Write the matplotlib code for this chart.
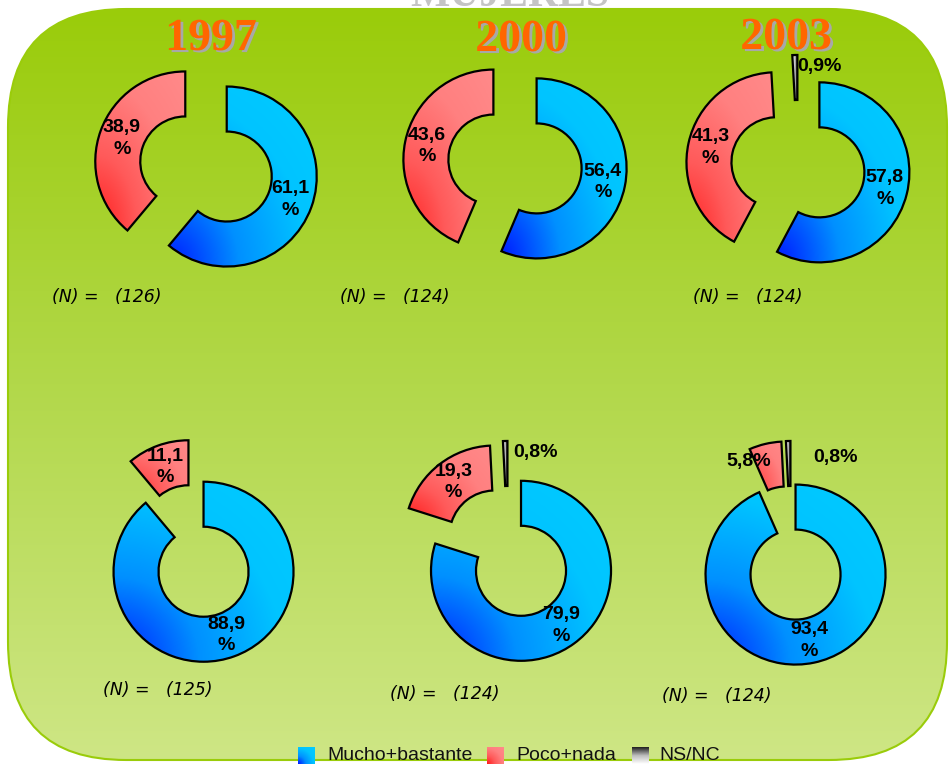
import numpy as np
import matplotlib
matplotlib.use("Agg")
import matplotlib.pyplot as plt
from matplotlib.patches import FancyBboxPatch
from matplotlib.colors import LinearSegmentedColormap
import matplotlib.patheffects as pe

W, H = 951, 766
DPI = 100

# data
years = ["1997", "2000", "2003"]
categories = ["Mucho+bastante", "Poco+nada", "NS/NC"]
top_values = [[61.1, 38.9, 0.0], [56.4, 43.6, 0.0], [57.8, 41.3, 0.9]]
bottom_values = [[88.9, 11.1, 0.0], [79.9, 19.3, 0.8], [93.4, 5.8, 0.8]]
top_n = [126, 124, 124]
bottom_n = [125, 124, 124]
header = "MUJERES"

# layout (pixels, from top-left)
top_centers = [(206, 169), (515, 164), (798, 167)]
bottom_centers = [(196, 551), (508, 553), (791, 553)]
year_pos = [(211, 39), (521, 40), (786, 38)]
top_n_pos = [(52, 297), (340, 297), (693, 297)]
bottom_n_pos = [(103, 690), (390, 694), (662, 696)]
# manual spots for the small single-line labels (pie units, from pie centre)
small_label_pos = {(2, 2): (0.24, 1.12),
                   (4, 2): (0.30, 1.12),
                   (5, 1): (-0.47, 1.02),
                   (5, 2): (0.50, 1.06)}

blue_cmap = LinearSegmentedColormap.from_list("b", ["#0018ff", "#0090ff", "#00c4ff", "#00ccff"])
red_cmap = LinearSegmentedColormap.from_list("r", ["#ff1c1c", "#ff5a5a", "#ff8080", "#ff8a8a"])
grey_cmap = LinearSegmentedColormap.from_list("g", ["#ffffff", "#bdbdbd", "#202020"])
cmaps = [blue_cmap, red_cmap, grey_cmap]

label_font = dict(family=["Liberation Sans", "DejaVu Sans"], weight="bold", size=14)


def fx(x):
    return x / W


def fy(y):
    return 1 - y / H


fig = plt.figure(figsize=(W / DPI, H / DPI), dpi=DPI)
fig.patch.set_facecolor("white")

# rounded green background
bg = fig.add_axes([0, 0, 1, 1])
bg.set_xlim(0, W)
bg.set_ylim(H, 0)
bg.axis("off")
box = FancyBboxPatch((8, 9), 939, 751, boxstyle="round,pad=0,rounding_size=118",
                     facecolor="none", edgecolor="#9acc0a", linewidth=1.5, zorder=2)
bg.add_patch(box)
grad = np.linspace(0, 1, 256).reshape(-1, 1)
bg_cmap = LinearSegmentedColormap.from_list("bg", ["#9acc0a", "#b2d84a", "#cee685"])
im = bg.imshow(grad, cmap=bg_cmap, extent=(8, 947, 760, 9), aspect="auto", zorder=1)
im.set_clip_path(box)
bg.set_xlim(0, W)
bg.set_ylim(H, 0)


def fill_gradient(ax, wedge, cmap, horizontal=False):
    ext = wedge.get_path().get_extents()
    x0, y0, x1, y1 = ext.x0, ext.y0, ext.x1, ext.y1
    xs = np.linspace(0, 1, 200)
    X, Y = np.meshgrid(xs, xs)
    if horizontal:
        t = X
    else:
        t = np.sqrt(X ** 2 + Y ** 2) / np.sqrt(2)
    img = ax.imshow(t, cmap=cmap, vmin=0, vmax=1, extent=(x0, x1, y0, y1),
                    origin="lower", aspect="auto", zorder=1)
    img.set_clip_path(wedge)


def draw_donut(idx, values, center):
    cx, cy = center
    ax = fig.add_axes([fx(cx - 135), fy(cy + 135), 270 / W, 270 / H])
    keep = [i for i, v in enumerate(values) if v > 0]
    vals = [values[i] for i in keep]
    labels = []
    for v in vals:
        s = f"{v:.1f}".replace(".", ",")
        labels.append(s + "%" if v < 10 else s + "\n%")
    wedges, texts = ax.pie(vals, labels=labels, startangle=90, counterclock=False,
                           explode=[0.245] * len(vals), labeldistance=0.75,
                           wedgeprops=dict(width=0.5, edgecolor="black", linewidth=1.6),
                           textprops=label_font)
    for w, i in zip(wedges, keep):
        w.set_facecolor("none")
        w.set_zorder(2)
        fill_gradient(ax, w, cmaps[i], horizontal=(i == 2))
    for t, i in zip(texts, keep):
        t.set_ha("center")
        t.set_va("center")
        t.set_linespacing(1.35)
        t.set_zorder(3)
        if (idx, i) in small_label_pos:
            t.set_position(small_label_pos[(idx, i)])
    ax.set_xlim(-1.5, 1.5)
    ax.set_ylim(-1.5, 1.5)
    ax.axis("off")


for k in range(3):
    draw_donut(k, top_values[k], top_centers[k])
    draw_donut(k + 3, bottom_values[k], bottom_centers[k])

# year titles
for yr, (x, y) in zip(years, year_pos):
    fig.text(fx(x), fy(y), yr, ha="center", va="center", color="#ff6600",
             fontsize=33, fontweight="bold", family=["Liberation Serif", "DejaVu Serif"],
             path_effects=[pe.SimplePatchShadow(offset=(2, -1.5), shadow_rgbFace="#a8a8a8", alpha=1),
                           pe.Normal()])

# header, mostly above the top edge as in the original
fig.text(fx(510), fy(6), header, ha="center", va="baseline", color="#c4c4c4",
         fontsize=30, fontweight="bold", family=["Liberation Serif", "DejaVu Serif"])

# sample sizes
for n, (x, y) in zip(top_n + bottom_n, top_n_pos + bottom_n_pos):
    fig.text(fx(x), fy(y), f"(N) =   ({n})", ha="left", va="center", fontsize=12.5,
             style="italic", family=["DejaVu Sans"], color="black")

# legend
sw_x = [298, 487, 632]
txt_x = [327, 516, 659]
for i, name in enumerate(categories):
    sax = fig.add_axes([fx(sw_x[i]), fy(764), 17 / W, 17 / H])
    xs = np.linspace(0, 1, 50)
    X, Y = np.meshgrid(xs, xs)
    if i == 2:
        t = Y
    else:
        t = np.sqrt(X ** 2 + Y ** 2) / np.sqrt(2)
    sax.imshow(t, cmap=cmaps[i], vmin=0, vmax=1, origin="lower", aspect="auto",
               extent=(0, 1, 0, 1))
    sax.axis("off")
    fig.text(fx(txt_x[i]), fy(755), name, ha="left", va="center", fontsize=14,
             family=["Liberation Sans Narrow", "Liberation Sans", "DejaVu Sans"], color="#111111")

fig.savefig("out.png", dpi=DPI)
